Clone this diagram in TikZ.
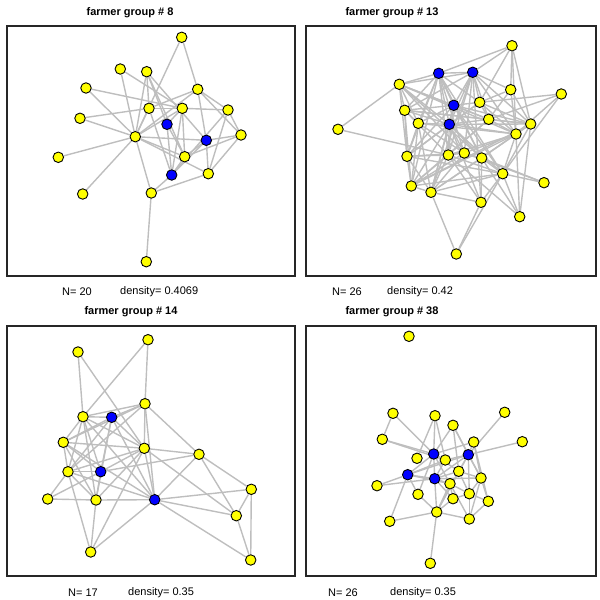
\documentclass[tikz,border=0pt]{standalone}
\usepackage{fontspec}
\setmainfont{Liberation Sans}
\usetikzlibrary{backgrounds}
\definecolor{edgegray}{HTML}{BEBEBE}
\definecolor{nodeyellow}{HTML}{FFFF00}
\definecolor{nodeblue}{HTML}{0000FF}
\tikzset{
  yv/.style={circle,draw=black,line width=0.9pt,fill=nodeyellow,minimum size=10.5pt,inner sep=0pt},
  bv/.style={circle,draw=black,line width=0.9pt,fill=nodeblue,minimum size=10.5pt,inner sep=0pt},
  edge/.style={draw=edgegray,line width=1.4pt},
  frame/.style={draw=black!85,line width=1.6pt},
  ttl/.style={font=\fontsize{11}{13}\selectfont\bfseries,inner sep=0pt},
  info/.style={font=\fontsize{11}{13}\selectfont,inner sep=0pt,anchor=west}
}
\begin{document}
\begin{tikzpicture}[x=1pt,y=-1pt]
\useasboundingbox (0,0) rectangle (600,600);
% frames
\node[frame,minimum width=288pt,minimum height=250pt,anchor=north west,inner sep=0pt] (f1) at (6,25) {};
\node[frame,minimum width=290pt,minimum height=250pt,anchor=north west,inner sep=0pt] (f2) at (305,25) {};
\node[frame,minimum width=288pt,minimum height=250pt,anchor=north west,inner sep=0pt] (f3) at (6,325) {};
\node[frame,minimum width=290pt,minimum height=250pt,anchor=north west,inner sep=0pt] (f4) at (305,325) {};
% texts
\node[ttl] (t1) at (130,13) {farmer group \# 8};
\node[ttl] (t2) at (392,13) {farmer group \# 13};
\node[ttl] (t3) at (131,312) {farmer group \# 14};
\node[ttl] (t4) at (392,312) {farmer group \# 38};
\node[info] (n1) at (62,292) {N= 20};
\node[info] (m1) at (120,292) {density= 0.4069};
\node[info] (n2) at (332,292) {N= 26};
\node[info] (m2) at (387,292) {density= 0.42};
\node[info] (n3) at (68,593) {N= 17};
\node[info] (m3) at (128,593) {density= 0.35};
\node[info] (n4) at (328,593) {N= 26};
\node[info] (m4) at (390,593) {density= 0.35};
% panel 1 nodes
\node[yv] (a1) at (181.7,37.3) {};
\node[yv] (a2) at (120.3,69) {};
\node[yv] (a3) at (146.7,71.7) {};
\node[yv] (a4) at (86,88) {};
\node[yv] (a5) at (197.7,89.3) {};
\node[yv] (a6) at (149,108.3) {};
\node[yv] (a7) at (182.3,108.3) {};
\node[yv] (a8) at (228,110) {};
\node[yv] (a9) at (80,118.3) {};
\node[bv] (ab1) at (167,124.3) {};
\node[yv] (a10) at (241,135) {};
\node[yv] (a11) at (135.3,136.7) {};
\node[bv] (ab2) at (206.3,140.3) {};
\node[yv] (a12) at (58.3,157.3) {};
\node[yv] (a13) at (184.7,156.7) {};
\node[bv] (ab3) at (171.7,175) {};
\node[yv] (a14) at (208.3,173.7) {};
\node[yv] (a15) at (82.7,194) {};
\node[yv] (a16) at (151.3,193) {};
\node[yv] (a17) at (146.3,261.7) {};
% panel 2 nodes
\node[yv] (c1) at (512,45.7) {};
\node[bv] (cb1) at (438.7,73.3) {};
\node[bv] (cb2) at (472.7,72.3) {};
\node[yv] (c2) at (399.3,84.3) {};
\node[yv] (c3) at (510.7,89.7) {};
\node[yv] (c4) at (561.3,94) {};
\node[yv] (c5) at (479.7,102.3) {};
\node[bv] (cb3) at (453.7,105.3) {};
\node[yv] (c6) at (404.7,110.3) {};
\node[yv] (c7) at (488.7,119.3) {};
\node[yv] (c8) at (418.3,123.3) {};
\node[bv] (cb4) at (449.3,124.3) {};
\node[yv] (c9) at (530.7,124) {};
\node[yv] (c10) at (338,129.3) {};
\node[yv] (c11) at (516,134) {};
\node[yv] (c12) at (407,156.3) {};
\node[yv] (c13) at (448.3,155) {};
\node[yv] (c14) at (464.3,153) {};
\node[yv] (c15) at (481.7,158) {};
\node[yv] (c16) at (502.7,173.7) {};
\node[yv] (c17) at (544,182.7) {};
\node[yv] (c18) at (411.3,186) {};
\node[yv] (c19) at (431,192.3) {};
\node[yv] (c20) at (481,202.3) {};
\node[yv] (c21) at (519.7,216.7) {};
\node[yv] (c22) at (456.3,254) {};
% panel 3 nodes
\node[yv] (d1) at (148,339.7) {};
\node[yv] (d2) at (78,352) {};
\node[yv] (d3) at (145,403.7) {};
\node[yv] (d4) at (83,416.7) {};
\node[bv] (db1) at (111.7,417.3) {};
\node[yv] (d5) at (63.3,442.3) {};
\node[yv] (d6) at (144.3,448.3) {};
\node[yv] (d7) at (199,454.3) {};
\node[yv] (d8) at (68,471.7) {};
\node[bv] (db2) at (100.7,471.7) {};
\node[yv] (d9) at (47.7,499) {};
\node[yv] (d10) at (96,500) {};
\node[bv] (db3) at (154.7,499.7) {};
\node[yv] (d11) at (251.3,489.3) {};
\node[yv] (d12) at (236.3,515.7) {};
\node[yv] (d13) at (90.7,552) {};
\node[yv] (d14) at (250.7,560) {};
% panel 4 nodes
\node[yv] (e1) at (409,336.3) {};
\node[yv] (e2) at (393,413.3) {};
\node[yv] (e3) at (435,415.7) {};
\node[yv] (e4) at (504.7,412.3) {};
\node[yv] (e5) at (453,425.3) {};
\node[yv] (e6) at (382.3,439.3) {};
\node[yv] (e7) at (473.7,442) {};
\node[yv] (e8) at (522.3,441.7) {};
\node[bv] (eb1) at (433.7,454) {};
\node[bv] (eb2) at (468.3,454.7) {};
\node[yv] (e9) at (417,458.3) {};
\node[yv] (e10) at (445.3,460) {};
\node[bv] (eb3) at (407.7,474.7) {};
\node[yv] (e11) at (458.7,471.3) {};
\node[bv] (eb4) at (434.7,478.7) {};
\node[yv] (e12) at (481,478) {};
\node[yv] (e13) at (450,483.7) {};
\node[yv] (e14) at (377,485.7) {};
\node[yv] (e15) at (418,494.3) {};
\node[yv] (e16) at (469.3,493.7) {};
\node[yv] (e17) at (453,498.7) {};
\node[yv] (e18) at (488.3,501.3) {};
\node[yv] (e19) at (436.7,512) {};
\node[yv] (e20) at (389.7,521.3) {};
\node[yv] (e21) at (469.3,519) {};
\node[yv] (e22) at (430.3,563.3) {};
\begin{pgfonlayer}{background}
% panel 1 edges
\foreach \u/\v in {a1/a5, a1/a11, a2/a11, a2/a7, a3/a11, a3/a6, a3/ab1, a3/a13, a3/ab2, a4/a11, a4/a7, a9/a6, a9/a11, a12/a11, a15/a11, a16/a17, a16/a11, a16/a14, a16/ab3, a11/a5, a11/a13, a11/ab2, a11/a14, a11/a7, a11/a6, a5/a6, a5/a8, a5/a10, a5/ab2, a7/a8, a7/ab1, a7/a13, a7/ab3, a8/a10, a8/a14, a8/ab3, a10/ab2, a10/a13, a10/a14, ab1/ab3, ab1/a13, ab2/a13, ab2/ab3, ab2/a14, a13/ab3, a6/a7, a6/ab3}
  \draw[edge] (\u) -- (\v);
% panel 2 edges
\foreach \u/\v in {c10/c2, c10/c13, c1/cb1, c1/cb2, c1/c3, c1/c9, c1/c5, c1/c11, c4/c5, c4/c11, c4/c16, c4/c7, c22/c19, c22/c20, c22/c16, c21/c16, c21/c11, c21/c15, c21/c13, c21/c9, c17/c16, c17/c15, c17/c14,
 c2/cb1, c2/cb2, c2/cb3, c2/c6, c2/c8, c2/cb4, c2/c12, c2/c7, c2/c14, c2/c15, c2/c11,
 cb1/cb2, cb1/cb3, cb1/cb4, cb1/c6, cb1/c8, cb1/c13, cb1/c14, cb1/c5, cb1/c15, cb1/c18, cb1/c12, cb1/c16,
 cb2/cb3, cb2/cb4, cb2/c5, cb2/c7, cb2/c3, cb2/c11, cb2/c13, cb2/c14, cb2/c6, cb2/c19, cb2/c20, cb2/c9,
 cb3/cb4, cb3/c5, cb3/c6, cb3/c8, cb3/c7, cb3/c12, cb3/c13, cb3/c15, cb3/c16, cb3/c9, cb3/c19,
 cb4/c5, cb4/c7, cb4/c8, cb4/c6, cb4/c12, cb4/c13, cb4/c14, cb4/c15, cb4/c18, cb4/c19, cb4/c11, cb4/c9, cb4/c16, cb4/c20,
 c6/c8, c6/c12, c6/c7, c6/c18, c6/c9, c6/c13,
 c8/c12, c8/c18, c8/c19, c8/c14, c8/c11,
 c12/c13, c12/c18, c12/c19, c12/c14, c12/c16,
 c13/c14, c13/c18, c13/c19, c13/c16, c13/c11,
 c14/c15, c14/c19, c14/c18, c14/c11,
 c15/c16, c15/c20, c15/c19, c15/c9,
 c16/c11, c16/c9, c16/c18, c16/c19, c16/c20,
 c5/c7, c5/c3, c5/c9, c5/c11, c5/c12,
 c7/c3, c7/c9, c7/c11, c7/c13, c7/c18,
 c3/c9, c3/c11, c11/c9, c11/c19, c11/c18, c18/c19, c19/c20, c9/c18, c20/c13}
  \draw[edge] (\u) -- (\v);
% panel 3 edges
\foreach \u/\v in {d2/d4, d2/d6, d1/d3, d1/d4, d3/d4, d3/db1, d3/d6, d3/d5, d3/d7, d3/db3, d3/d8,
 d4/db1, d4/d5, d4/d8, d4/db2, d4/d10, d4/d6, d4/db3, db1/d8, db1/db2, db1/d6, db1/db3, db1/d10, db1/d5,
 d5/d6, d5/d8, d5/db2, d5/d10, d5/db3, d6/d7, d6/db2, d6/d8, d6/d10, d6/db3, d6/d13, d6/d12,
 d7/db2, d7/db3, d7/d11, d7/d12, d8/d9, d8/db2, d8/d10, d8/db3, d8/d13,
 d9/d10, d9/db2, d10/db3, d10/d13, db2/d10, db3/d11, db3/d12, db3/d14, db3/d13, d11/d12, d11/d14, d12/d14}
  \draw[edge] (\u) -- (\v);
% panel 4 edges
\foreach \u/\v in {e2/e6, e2/eb1, e6/eb1, e6/e10, e3/eb1, e3/e9, e3/e10, e4/eb2, e8/eb2,
 e5/eb1, e5/eb2, e5/e12, e5/e11, e7/eb1, e7/eb2, e7/e12, e7/e18, e14/eb3, e14/eb4,
 eb3/e20, eb3/eb1, eb3/eb2, eb3/e10, eb3/eb4, eb3/e13, eb3/e15,
 e19/e22, e19/e20, e19/e21, e19/e13, e19/e15, e19/eb4, e19/e11, e19/eb2, e19/e17,
 e21/e16, e21/e12, e21/e13, e21/e18,
 eb1/e10, eb1/eb4, eb1/e11, eb1/e13, eb1/e15, eb2/e10, eb2/e11, eb2/eb4, eb2/e16, eb2/e12,
 eb4/e10, eb4/e11, eb4/e13, eb4/e12, eb4/e17, e11/e12, e11/e16, e13/e16, e13/e17, e12/e16, e12/e18, e16/e17, e16/e18}
  \draw[edge] (\u) -- (\v);
\end{pgfonlayer}
\end{tikzpicture}
\end{document}
